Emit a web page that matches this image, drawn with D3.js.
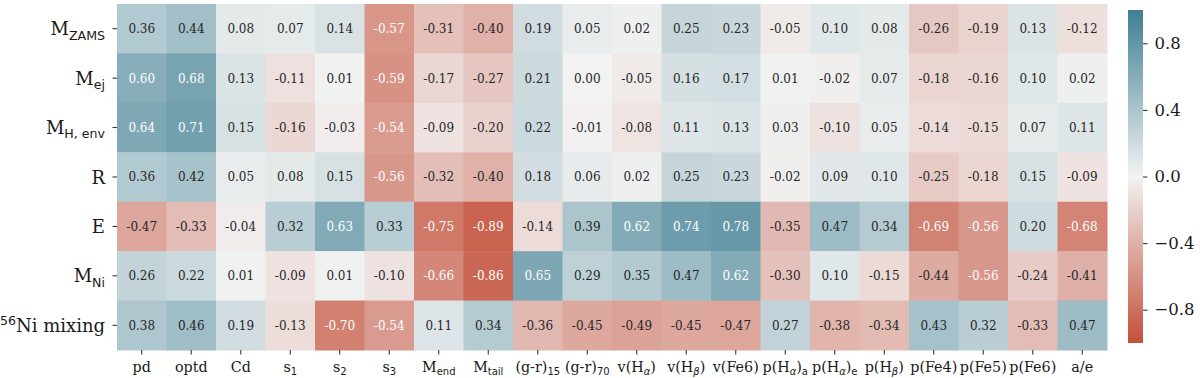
<!DOCTYPE html>
<html>
<head>
<meta charset="utf-8">
<script src="https://cdn.jsdelivr.net/npm/d3@7"></script>
<style>
  body { margin: 0; background: #fff; }
  svg text { font-family: "DejaVu Serif", serif; fill: #1a1a1a; }
  .sub { font-family: "DejaVu Sans", sans-serif; }
</style>
</head>
<body>
<div id="chart"></div>
<script>
// Row and column labels, as [text, kind] parts
var rowLabels = [
  [["M", ""], ["ZAMS", "sub"]],
  [["M", ""], ["ej", "sub"]],
  [["M", ""], ["H, env", "sub"]],
  [["R", ""]],
  [["E", ""]],
  [["M", ""], ["Ni", "sub"]],
  [["56", "sup"], ["Ni mixing", ""]]
]

var colLabels = [
  [["pd", ""]],
  [["optd", ""]],
  [["Cd", ""]],
  [["s", ""], ["1", "sub"]],
  [["s", ""], ["2", "sub"]],
  [["s", ""], ["3", "sub"]],
  [["M", ""], ["end", "sub"]],
  [["M", ""], ["tail", "sub"]],
  [["(g-r)", ""], ["15", "sub"]],
  [["(g-r)", ""], ["70", "sub"]],
  [["v(H", ""], ["α", "subi"], [")", ""]],
  [["v(H", ""], ["β", "subi"], [")", ""]],
  [["v(Fe6)", ""]],
  [["p(H", ""], ["α", "subi"], [")", ""], ["a", "sub"]],
  [["p(H", ""], ["α", "subi"], [")", ""], ["e", "sub"]],
  [["p(H", ""], ["β", "subi"], [")", ""]],
  [["p(Fe4)", ""]],
  [["p(Fe5)", ""]],
  [["p(Fe6)", ""]],
  [["a/e", ""]]
]

// correlation values, one array per row
var mZams   = [0.36, 0.44, 0.08, 0.07, 0.14, -0.57, -0.31, -0.40, 0.19, 0.05, 0.02, 0.25, 0.23, -0.05, 0.10, 0.08, -0.26, -0.19, 0.13, -0.12]
var mEj     = [0.60, 0.68, 0.13, -0.11, 0.01, -0.59, -0.17, -0.27, 0.21, 0.00, -0.05, 0.16, 0.17, 0.01, -0.02, 0.07, -0.18, -0.16, 0.10, 0.02]
var mHenv   = [0.64, 0.71, 0.15, -0.16, -0.03, -0.54, -0.09, -0.20, 0.22, -0.01, -0.08, 0.11, 0.13, 0.03, -0.10, 0.05, -0.14, -0.15, 0.07, 0.11]
var radius  = [0.36, 0.42, 0.05, 0.08, 0.15, -0.56, -0.32, -0.40, 0.18, 0.06, 0.02, 0.25, 0.23, -0.02, 0.09, 0.10, -0.25, -0.18, 0.15, -0.09]
var energy  = [-0.47, -0.33, -0.04, 0.32, 0.63, 0.33, -0.75, -0.89, -0.14, 0.39, 0.62, 0.74, 0.78, -0.35, 0.47, 0.34, -0.69, -0.56, 0.20, -0.68]
var mNi     = [0.26, 0.22, 0.01, -0.09, 0.01, -0.10, -0.66, -0.86, 0.65, 0.29, 0.35, 0.47, 0.62, -0.30, 0.10, -0.15, -0.44, -0.56, -0.24, -0.41]
var niMix   = [0.38, 0.46, 0.19, -0.13, -0.70, -0.54, 0.11, 0.34, -0.36, -0.45, -0.49, -0.45, -0.47, 0.27, -0.38, -0.34, 0.43, 0.32, -0.33, 0.47]

var rows = [mZams, mEj, mHenv, radius, energy, mNi, niMix]
var cbTicks = [-0.8, -0.4, 0.0, 0.4, 0.8]

var W = 1200, H = 378
// plot area (note: "top" is reserved on window, so use a prefix)
var hmLeft = 117, hmRight = 1107, hmTop = 4, hmBottom = 350

var svg = d3.select("#chart").append("svg")
  .attr("width", W).attr("height", H)

var x = d3.scaleBand().domain(d3.range(colLabels.length)).range([hmLeft, hmRight])
var y = d3.scaleBand().domain(d3.range(rows.length)).range([hmTop, hmBottom])

// diverging colormap: red -> light grey -> teal
var color = d3.scaleLinear()
  .domain([-1, 0, 1])
  .range(["#c4503a", "#f2f2f2", "#3e7f93"])
  .interpolate(d3.interpolateRgb)
  .clamp(true)

// luminance to choose annotation colour
function lum(c) {
  var rgb = d3.rgb(c)
  var f = v => { v = v / 255; return v <= 0.03928 ? v / 12.92 : Math.pow((v + 0.055) / 1.055, 2.4) }
  return 0.2126 * f(rgb.r) + 0.7152 * f(rgb.g) + 0.0722 * f(rgb.b)
}

var cells = []
rows.forEach((r, i) => r.forEach((v, j) => cells.push({row: i, col: j, v: v})))

svg.append("g").selectAll("rect")
  .data(cells).enter().append("rect")
  .attr("x", d => x(d.col))
  .attr("y", d => y(d.row))
  .attr("width", x.bandwidth() + 0.5)
  .attr("height", y.bandwidth() + 0.5)
  .attr("fill", d => color(d.v))

svg.append("g").selectAll("text")
  .data(cells).enter().append("text")
  .attr("x", d => x(d.col) + x.bandwidth() / 2)
  .attr("y", d => y(d.row) + y.bandwidth() / 2 + 4.4)
  .attr("text-anchor", "middle")
  .style("font-size", "12px")
  .style("fill", d => lum(color(d.v)) > 0.408 ? "#262626" : "#ffffff")
  .text(d => d.v.toFixed(2))

// write a label made of parts with sub / superscripts
// the baseline shift of a part is undone on the next part
function richText(sel, parts, size) {
  var shift = 0
  parts.forEach(p => {
    var t = sel.append("tspan").text(p[0])
    var s = 0
    if (p[1] == "sub" || p[1] == "subi") s = size * 0.24
    else if (p[1] == "sup") s = -size * 0.38
    if (s != 0) {
      t.attr("class", "sub").style("font-size", (size * 0.7) + "px")
      if (p[1] == "subi") t.style("font-style", "oblique")
    }
    if (s - shift != 0) t.attr("dy", s - shift)
    shift = s
  })
}

// y axis
var yg = svg.append("g")
rowLabels.forEach((lab, i) => {
  var cy = y(i) + y.bandwidth() / 2
  yg.append("line").attr("x1", hmLeft - 4.5).attr("x2", hmLeft)
    .attr("y1", cy).attr("y2", cy).attr("stroke", "#262626").attr("stroke-width", 1)
  var t = yg.append("text").attr("x", hmLeft - 12).attr("y", cy + 6.5)
    .attr("text-anchor", "end").style("font-size", "18px")
  richText(t, lab, 18)
})

// x axis
var xg = svg.append("g")
colLabels.forEach((lab, j) => {
  var cx = x(j) + x.bandwidth() / 2
  xg.append("line").attr("x1", cx).attr("x2", cx)
    .attr("y1", hmBottom).attr("y2", hmBottom + 4.5).attr("stroke", "#262626").attr("stroke-width", 1)
  var t = xg.append("text").attr("x", cx).attr("y", hmBottom + 22)
    .attr("text-anchor", "middle").style("font-size", "14.3px")
  richText(t, lab, 14.3)
})

// colorbar
var cbX = 1128, cbW = 15, cbTop = 10, cbBot = 343
var cbScale = d3.scaleLinear().domain([-1, 1]).range([cbBot, cbTop])
var grad = svg.append("defs").append("linearGradient")
  .attr("id", "cb").attr("x1", 0).attr("y1", 1).attr("x2", 0).attr("y2", 0)
d3.range(0, 1.0001, 0.05).forEach(s => {
  grad.append("stop").attr("offset", s).attr("stop-color", color(-1 + 2 * s))
})
svg.append("rect").attr("x", cbX).attr("y", cbTop)
  .attr("width", cbW).attr("height", cbBot - cbTop)
  .attr("fill", "url(#cb)")

var cbAxis = svg.append("g")
  .attr("transform", "translate(" + (cbX + cbW) + ",0)")
  .call(d3.axisRight(cbScale).tickValues(cbTicks).tickSize(4.5).tickPadding(7)
    .tickFormat(d3.format(".1f")))
cbAxis.select(".domain").remove()
cbAxis.selectAll("line").attr("stroke", "#262626")
cbAxis.selectAll("text").style("font-size", "16.5px")
  .style("font-family", "DejaVu Serif, serif").attr("fill", "#1a1a1a")
</script>
</body>
</html>
